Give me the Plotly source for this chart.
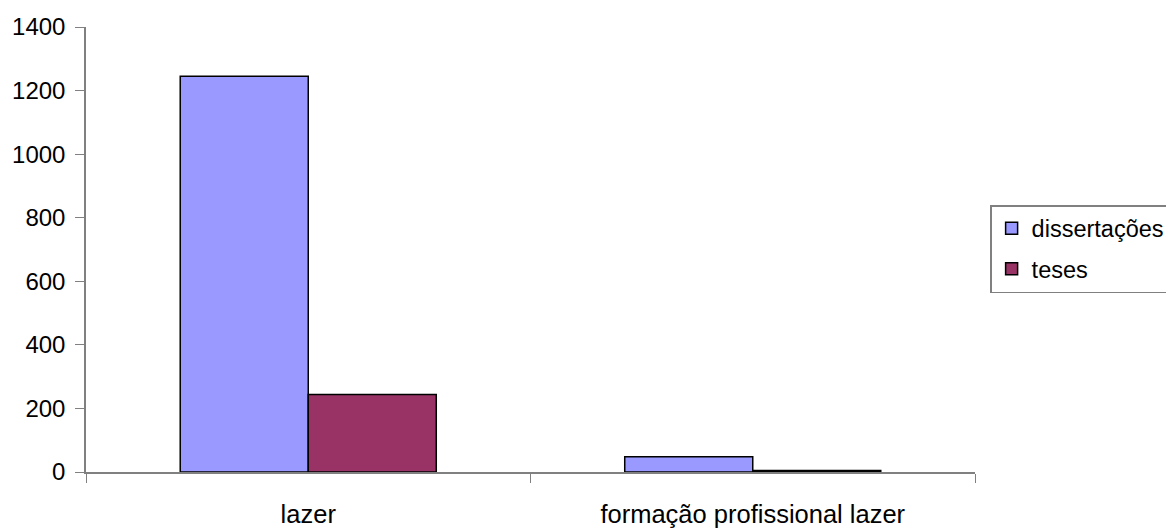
import plotly.graph_objects as go

categories = ["lazer", "formação profissional lazer"]
dissertacoes = [1245, 48]
teses = [244, 5]
series_names = ["dissertações", "teses"]

FONT = "Liberation Sans, Arial, sans-serif"

fig = go.Figure()
fig.add_trace(go.Bar(x=categories, y=dissertacoes, name=series_names[0], legendgroup="a",
                     marker=dict(color="#9999FF", line=dict(color="black", width=1.5))))
fig.add_trace(go.Bar(x=categories, y=teses, name=series_names[1], legendgroup="b",
                     marker=dict(color="#993366", line=dict(color="black", width=1.5))))

fig.update_layout(
    width=1166, height=532,
    margin=dict(l=86, r=191, t=27, b=60, autoexpand=False),
    paper_bgcolor="white", plot_bgcolor="white",
    barmode="group", bargap=0.424, bargroupgap=0,
    font=dict(family=FONT, size=24, color="black"),
    showlegend=True,
    legend=dict(x=1.017, y=0.6, xanchor="left", yanchor="top",
                bordercolor="#808080", borderwidth=1.5, bgcolor="white",
                font=dict(family=FONT, size=23.5), traceorder="grouped",
                tracegroupgap=7, itemwidth=30),
)
fig.update_xaxes(showline=True, linecolor="#808080", linewidth=1.5,
                 ticks="outside", tickson="boundaries", ticklen=9, tickcolor="#808080",
                 showgrid=False, tickfont=dict(family=FONT, size=25.5), ticklabelstandoff=19)
fig.update_yaxes(range=[0, 1400], dtick=200, showline=True, linecolor="#808080", linewidth=1.5,
                 ticks="outside", ticklen=9, tickcolor="#808080", showgrid=False,
                 zeroline=False, tickfont=dict(family=FONT, size=24), ticklabelstandoff=5)

fig.write_html("out.html")
